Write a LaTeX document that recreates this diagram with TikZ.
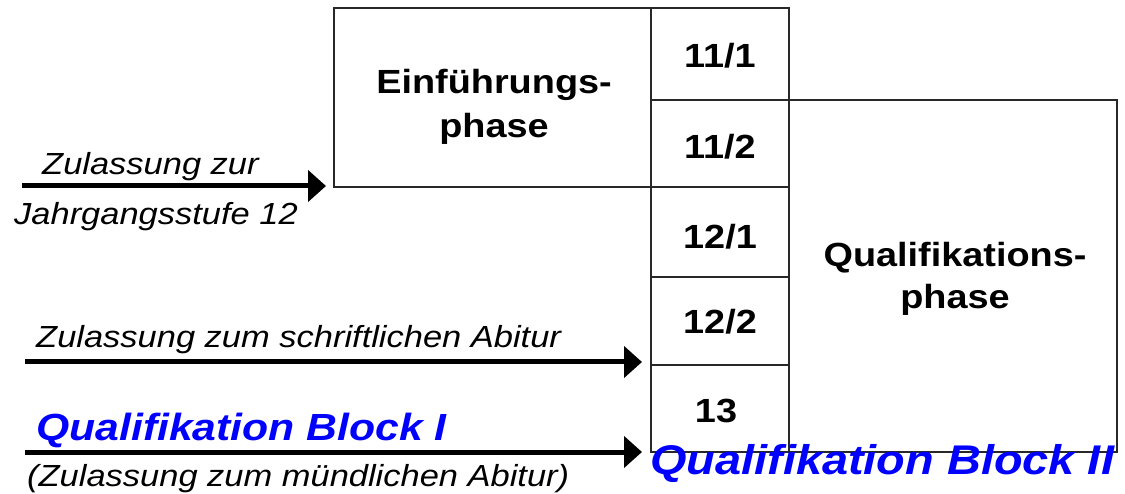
\documentclass[tikz,border=0pt]{standalone}
\usepackage{fontspec}
\setmainfont{Liberation Sans}
\usetikzlibrary{arrows.meta}
\definecolor{qblue}{RGB}{0,0,255}
\definecolor{boxline}{RGB}{40,40,40}
\newcommand{\wide}[1]{\scalebox{1.13}[1]{#1}}
\begin{document}
\begin{tikzpicture}[x=1pt,y=-1pt,
  boxstyle/.style={draw=boxline,line width=1.4pt},
  lbl/.style={inner sep=0pt,font=\fontsize{30.5}{34}\selectfont\itshape},
  bigl/.style={inner sep=0pt,font=\fontsize{33.5}{38}\selectfont\bfseries},
  blu/.style={inner sep=0pt,text=qblue,font=\fontsize{37.8}{42}\selectfont\bfseries\itshape},
  arr/.style={line width=5pt,-{Triangle[length=18pt,width=31pt]}}]
\useasboundingbox (0,0) rectangle (1125,494);
% boxes
\draw[boxstyle] (334,8) rectangle (651,187);
\draw[boxstyle] (651,8) rectangle (789,452);
\draw[boxstyle] (789,100) rectangle (1117,452);
\draw[boxstyle] (651,100) -- (789,100);
\draw[boxstyle] (651,187) -- (789,187);
\draw[boxstyle] (651,277) -- (789,277);
\draw[boxstyle] (651,365) -- (789,365);
% box texts
\node[bigl,anchor=base] (e1) at (494,94) {\wide{Einführungs-}};
\node[bigl,anchor=base] (e2) at (494,138) {\wide{phase}};
\node[bigl,anchor=base] (q1) at (955,267) {\wide{Qualifikations-}};
\node[bigl,anchor=base] (q2) at (955,309) {\wide{phase}};
\node[bigl,anchor=base] (r1) at (720,68) {\wide{11/1}};
\node[bigl,anchor=base] (r2) at (720,159) {\wide{11/2}};
\node[bigl,anchor=base] (r3) at (720,249) {\wide{12/1}};
\node[bigl,anchor=base] (r4) at (720,334) {\wide{12/2}};
\node[bigl,anchor=base] (r5) at (716,422) {\wide{13}};
% arrows
\coordinate (a1s) at (22,186);
\coordinate (a1e) at (326,186);
\coordinate (a2s) at (25,362);
\coordinate (a2e) at (642,362);
\coordinate (a3s) at (25,452);
\coordinate (a3e) at (642,452);
\draw[arr] (a1s) -- (a1e);
\draw[arr] (a2s) -- (a2e);
\draw[arr] (a3s) -- (a3e);
% labels
\node[lbl,anchor=base west] (t1) at (42,175) {\wide{Zulassung zur}};
\node[lbl,anchor=base west] (t2) at (14,225) {\wide{Jahrgangsstufe 12}};
\node[lbl,anchor=base west] (t3) at (36,348) {\wide{Zulassung zum schriftlichen Abitur}};
\node[blu,anchor=base west] (t4) at (36,440) {\wide{Qualifikation Block I}};
\node[lbl,anchor=base west] (t5) at (27,486) {\wide{(Zulassung zum mündlichen Abitur)}};
\node[blu,anchor=base west,font=\fontsize{41.5}{46}\selectfont\bfseries\itshape] (t6) at (650,474) {\wide{Qualifikation Block II}};
\end{tikzpicture}
\end{document}
